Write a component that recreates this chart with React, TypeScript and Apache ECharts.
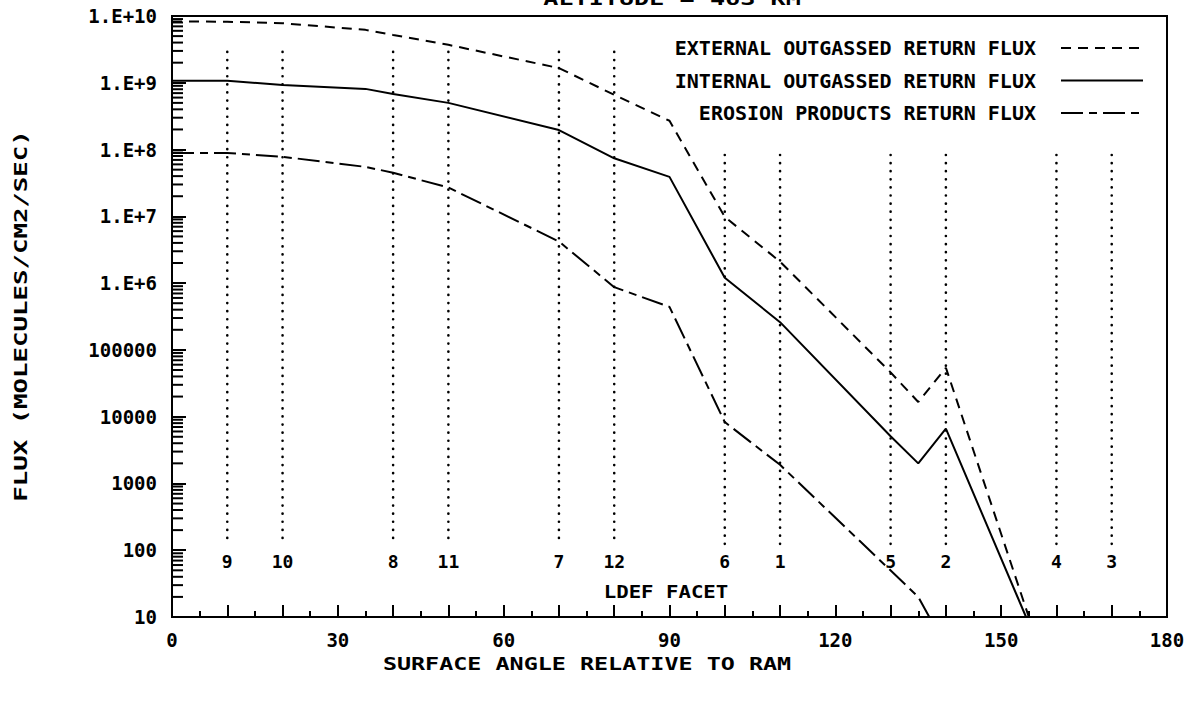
import React, { useEffect, useRef } from "react";
import * as echarts from "echarts";

// ---------- data ----------
const SERIES_NAMES = [
  "EXTERNAL OUTGASSED RETURN FLUX",
  "INTERNAL OUTGASSED RETURN FLUX",
  "EROSION PRODUCTS RETURN FLUX",
];

const externalAngles = [0, 10, 20, 35, 40, 50, 70, 80, 90, 100, 110, 130, 135, 140, 155];
const externalFlux = [8.3e9, 8.2e9, 7.8e9, 6.2e9, 5.2e9, 3.7e9, 1.66e9, 6.6e8, 2.7e8, 9.8e6, 2.1e6, 4.6e4, 1.66e4, 5.4e4, 10];

const internalAngles = [0, 10, 20, 35, 40, 50, 70, 80, 90, 100, 110, 130, 135, 140, 154.5];
const internalFlux = [1.07e9, 1.07e9, 9.3e8, 8.1e8, 6.8e8, 5.0e8, 1.96e8, 7.4e7, 3.9e7, 1.2e6, 2.6e5, 5.1e3, 2.0e3, 6.6e3, 10];

const erosionAngles = [0, 10, 20, 35, 40, 50, 70, 80, 90, 100, 110, 135, 137];
const erosionFlux = [8.9e7, 8.9e7, 7.8e7, 5.5e7, 4.5e7, 2.7e7, 4.2e6, 8.7e5, 4.4e5, 8.3e3, 1.9e3, 20, 10];

// LDEF facets (angle relative to ram, facet number, top of dotted line)
const facetAngles = [10, 20, 40, 50, 70, 80, 100, 110, 130, 140, 160, 170];
const facetNumbers = ["9", "10", "8", "11", "7", "12", "6", "1", "5", "2", "4", "3"];
const facetTops = [2.9e9, 2.9e9, 2.9e9, 2.9e9, 2.9e9, 2.9e9, 8.3e7, 8.3e7, 8.3e7, 8.3e7, 8.3e7, 8.3e7];
const FACET_LINE_BOTTOM = 120;
const FACET_LABEL_VALUE = 67;

const xLabelStep = 30;
const yMinorMantissas = [2, 3, 4, 5, 6, 7, 8, 9];
const yDecadeExponents = [1, 2, 3, 4, 5, 6, 7, 8, 9];

const TITLE = "ALTITUDE = 463 KM";
const X_TITLE = "SURFACE ANGLE RELATIVE TO RAM";
const Y_TITLE = "FLUX (MOLECULES/CM2/SEC)";
const FACET_TITLE = "LDEF FACET";

const FONT = '"DejaVu Sans Mono", "Liberation Mono", monospace';
const WEIGHT = "bold";

const pairs = (xs: number[], ys: number[]) => xs.map((x, i) => [x, ys[i]]);

const yMinorValues: number[] = [];
yDecadeExponents.forEach((e) => {
  yMinorMantissas.forEach((m) => yMinorValues.push(m * Math.pow(10, e)));
});

export default function App() {
  const ref = useRef<HTMLDivElement>(null);

  useEffect(() => {
    if (!ref.current) return;
    const chart = echarts.init(ref.current, undefined, { renderer: "svg" });

    const lineStyles: any[] = [
      { color: "#000", width: 2, type: [10, 7] },
      { color: "#000", width: 2, type: "solid" },
      { color: "#000", width: 2, type: [22, 6, 8, 6] },
    ];
    const seriesData = [
      pairs(externalAngles, externalFlux),
      pairs(internalAngles, internalFlux),
      pairs(erosionAngles, erosionFlux),
    ];
    const legendTops = [38, 70.5, 103];

    const option: any = {
      animation: false,
      backgroundColor: "#fff",
      grid: {
        left: 172,
        right: 33,
        top: 16,
        bottom: 97,
        show: true,
        borderColor: "#000",
        borderWidth: 2,
        backgroundColor: "transparent",
      },
      legend: SERIES_NAMES.map((name, i) => ({
        data: [name],
        right: 56,
        top: legendTops[i],
        padding: 0,
        align: "right",
        itemWidth: 82,
        itemHeight: 14,
        selectedMode: false,
        itemStyle: { color: "rgba(0,0,0,0)", borderWidth: 0, opacity: 0 },
        textStyle: {
          fontFamily: FONT,
          fontWeight: WEIGHT,
          fontSize: 20,
          color: "#000",
          padding: [0, 20, 0, 0],
        },
      })),
      xAxis: {
        type: "value",
        min: 0,
        max: 180,
        interval: 10,
        axisLine: { lineStyle: { color: "#000", width: 2 } },
        axisTick: { inside: true, length: 12, lineStyle: { color: "#000", width: 2 } },
        minorTick: { show: true, splitNumber: 2, length: 6, lineStyle: { color: "#000", width: 2 } },
        splitLine: { show: false },
        axisLabel: {
          formatter: (v: number) => (v % xLabelStep === 0 ? String(v) : ""),
          color: "#000",
          fontFamily: FONT,
          fontWeight: WEIGHT,
          fontSize: 19,
          margin: 13,
        },
      },
      yAxis: {
        type: "log",
        logBase: 10,
        min: 10,
        max: 1e10,
        splitNumber: 9,
        axisLine: { lineStyle: { color: "#000", width: 2 } },
        axisTick: { inside: true, length: 14, lineStyle: { color: "#000", width: 2 } },
        splitLine: { show: false },
        axisLabel: {
          formatter: (v: number) => {
            const e = Math.round(Math.log10(v));
            return e >= 6 ? "1.E+" + e : String(Math.round(v));
          },
          color: "#000",
          fontFamily: FONT,
          fontWeight: WEIGHT,
          fontSize: 19,
          margin: 15,
        },
      },
      series: [
        ...SERIES_NAMES.map((name, i) => ({
          name,
          type: "line",
          data: seriesData[i],
          symbol: "none",
          lineStyle: lineStyles[i],
          itemStyle: { color: "#000" },
          clip: true,
          z: 3,
        })),
        {
          type: "custom",
          name: "facets",
          data: facetAngles.map((a, i) => [a, facetTops[i]]),
          renderItem: (params: any, api: any) => {
            const x = api.value(0);
            const top = api.coord([x, api.value(1)]);
            const bot = api.coord([x, FACET_LINE_BOTTOM]);
            const lab = api.coord([x, FACET_LABEL_VALUE]);
            return {
              type: "group",
              children: [
                {
                  type: "line",
                  shape: { x1: top[0], y1: top[1], x2: bot[0], y2: bot[1] },
                  style: { stroke: "#000", lineWidth: 2.6, lineDash: [0.1, 8], lineCap: "round" },
                },
                {
                  type: "text",
                  x: lab[0],
                  y: lab[1],
                  style: {
                    text: facetNumbers[params.dataIndex],
                    align: "center",
                    verticalAlign: "middle",
                    fontFamily: FONT,
                    fontWeight: WEIGHT,
                    fontSize: 18,
                    fill: "#000",
                  },
                },
              ],
            };
          },
          z: 2,
        },
        {
          type: "custom",
          name: "yMinor",
          data: yMinorValues.map((v) => [0, v]),
          renderItem: (params: any, api: any) => {
            const p = api.coord([api.value(0), api.value(1)]);
            return {
              type: "line",
              shape: { x1: p[0], y1: p[1], x2: p[0] + 11, y2: p[1] },
              style: { stroke: "#000", lineWidth: 2 },
            };
          },
          z: 4,
        },
      ],
      graphic: [
        {
          type: "text",
          x: 672,
          y: 8,
          scaleX: 1.4,
          style: {
            text: TITLE,
            align: "center",
            verticalAlign: "bottom",
            fontFamily: FONT,
            fontWeight: WEIGHT,
            fontSize: 18,
            fill: "#000",
          },
        },
        {
          type: "text",
          x: 587,
          y: 664,
          scaleX: 1.3,
          style: {
            text: X_TITLE,
            align: "center",
            verticalAlign: "middle",
            fontFamily: FONT,
            fontWeight: WEIGHT,
            fontSize: 18,
            fill: "#000",
          },
        },
        {
          type: "text",
          x: 21,
          y: 316,
          rotation: Math.PI / 2,
          scaleX: 1.43,
          style: {
            text: Y_TITLE,
            align: "center",
            verticalAlign: "middle",
            fontFamily: FONT,
            fontWeight: WEIGHT,
            fontSize: 18,
            fill: "#000",
          },
        },
        {
          type: "text",
          x: 666,
          y: 592,
          scaleX: 1.15,
          style: {
            text: FACET_TITLE,
            align: "center",
            verticalAlign: "middle",
            fontFamily: FONT,
            fontWeight: WEIGHT,
            fontSize: 18,
            fill: "#000",
          },
        },
      ],
    };

    chart.setOption(option);
    return () => chart.dispose();
  }, []);

  return <div ref={ref} style={{ width: 1200, height: 714, position: "absolute", left: 0, top: 0 }} />;
}
